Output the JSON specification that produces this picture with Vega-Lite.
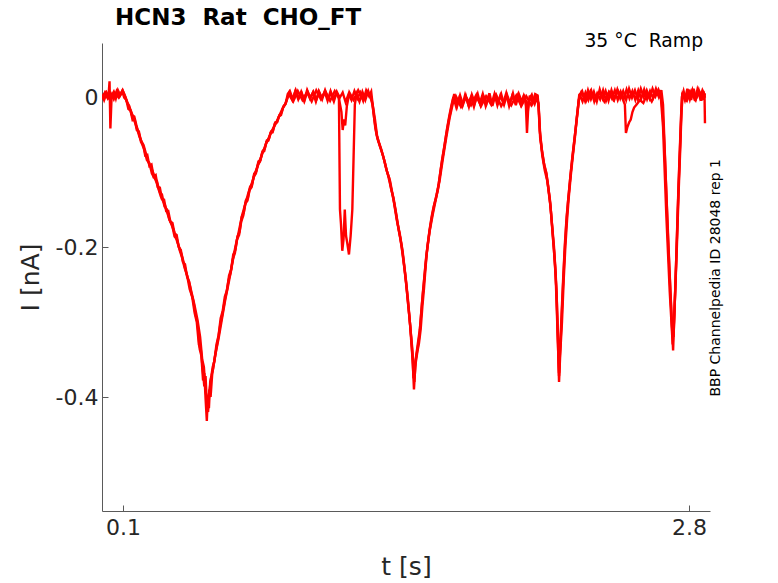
{
  "$schema": "https://vega.github.io/schema/vega-lite/v6.json",
  "autosize": {"type": "none"},
  "padding": {"left": 102, "top": 43, "right": 68, "bottom": 72},
  "width": 608,
  "height": 468,
  "background": "white",
  "title": {
    "text": "HCN3 \u00a0Rat \u00a0CHO_FT",
    "anchor": "start",
    "frame": "group",
    "dx": 13,
    "offset": -16.5,
    "baseline": "alphabetic",
    "font": "DejaVu Sans",
    "fontSize": 23,
    "fontWeight": "bold",
    "color": "black"
  },
  "layer": [
    {
      "data": {
        "values": [
          {"s":"A","t":0.000,"i":0.003},{"s":"A","t":0.010,"i":-0.004},{"s":"A","t":0.020,"i":0.004},{"s":"A","t":0.030,"i":-0.003},
          {"s":"A","t":0.036,"i":0.021},{"s":"A","t":0.040,"i":-0.042},{"s":"A","t":0.046,"i":0.002},{"s":"A","t":0.056,"i":0.007},
          {"s":"A","t":0.066,"i":-0.002},{"s":"A","t":0.076,"i":0.009},{"s":"A","t":0.086,"i":0.003},{"s":"A","t":0.096,"i":0.008},
          {"s":"A","t":0.106,"i":-0.001},{"s":"A","t":0.116,"i":-0.004},{"s":"A","t":0.126,"i":-0.016},{"s":"A","t":0.136,"i":-0.018},
          {"s":"A","t":0.146,"i":-0.031},{"s":"A","t":0.156,"i":-0.030},{"s":"A","t":0.166,"i":-0.044},{"s":"A","t":0.176,"i":-0.046},
          {"s":"A","t":0.186,"i":-0.060},{"s":"A","t":0.196,"i":-0.063},{"s":"A","t":0.206,"i":-0.078},{"s":"A","t":0.216,"i":-0.077},
          {"s":"A","t":0.226,"i":-0.092},{"s":"A","t":0.236,"i":-0.090},{"s":"A","t":0.246,"i":-0.106},{"s":"A","t":0.256,"i":-0.104},
          {"s":"A","t":0.266,"i":-0.120},{"s":"A","t":0.276,"i":-0.121},{"s":"A","t":0.286,"i":-0.136},{"s":"A","t":0.296,"i":-0.137},
          {"s":"A","t":0.306,"i":-0.152},{"s":"A","t":0.316,"i":-0.152},{"s":"A","t":0.326,"i":-0.166},{"s":"A","t":0.336,"i":-0.168},
          {"s":"A","t":0.346,"i":-0.182},{"s":"A","t":0.356,"i":-0.184},{"s":"A","t":0.366,"i":-0.200},{"s":"A","t":0.376,"i":-0.204},
          {"s":"A","t":0.386,"i":-0.220},{"s":"A","t":0.396,"i":-0.223},{"s":"A","t":0.406,"i":-0.240},{"s":"A","t":0.416,"i":-0.246},
          {"s":"A","t":0.426,"i":-0.262},{"s":"A","t":0.436,"i":-0.272},{"s":"A","t":0.446,"i":-0.290},{"s":"A","t":0.456,"i":-0.302},
          {"s":"A","t":0.466,"i":-0.336},{"s":"A","t":0.474,"i":-0.345},{"s":"A","t":0.482,"i":-0.378},{"s":"A","t":0.488,"i":-0.368},
          {"s":"A","t":0.494,"i":-0.402},{"s":"A","t":0.500,"i":-0.432},{"s":"A","t":0.505,"i":-0.398},{"s":"A","t":0.510,"i":-0.415},
          {"s":"A","t":0.516,"i":-0.380},{"s":"A","t":0.522,"i":-0.372},{"s":"A","t":0.528,"i":-0.360},{"s":"A","t":0.536,"i":-0.352},
          {"s":"A","t":0.546,"i":-0.330},{"s":"A","t":0.556,"i":-0.318},{"s":"A","t":0.566,"i":-0.295},{"s":"A","t":0.576,"i":-0.285},
          {"s":"A","t":0.586,"i":-0.266},{"s":"A","t":0.596,"i":-0.258},{"s":"A","t":0.606,"i":-0.238},{"s":"A","t":0.616,"i":-0.230},
          {"s":"A","t":0.626,"i":-0.210},{"s":"A","t":0.636,"i":-0.204},{"s":"A","t":0.646,"i":-0.186},{"s":"A","t":0.656,"i":-0.180},
          {"s":"A","t":0.666,"i":-0.160},{"s":"A","t":0.676,"i":-0.154},{"s":"A","t":0.686,"i":-0.138},{"s":"A","t":0.696,"i":-0.134},
          {"s":"A","t":0.706,"i":-0.120},{"s":"A","t":0.716,"i":-0.116},{"s":"A","t":0.726,"i":-0.102},{"s":"A","t":0.736,"i":-0.099},
          {"s":"A","t":0.746,"i":-0.086},{"s":"A","t":0.756,"i":-0.084},{"s":"A","t":0.766,"i":-0.072},{"s":"A","t":0.776,"i":-0.069},
          {"s":"A","t":0.786,"i":-0.058},{"s":"A","t":0.796,"i":-0.056},{"s":"A","t":0.806,"i":-0.046},{"s":"A","t":0.816,"i":-0.044},
          {"s":"A","t":0.826,"i":-0.034},{"s":"A","t":0.836,"i":-0.033},{"s":"A","t":0.846,"i":-0.024},{"s":"A","t":0.856,"i":-0.021},
          {"s":"A","t":0.866,"i":-0.012},{"s":"A","t":0.876,"i":-0.009},{"s":"A","t":0.886,"i":0.004},{"s":"A","t":0.896,"i":0.008},
          {"s":"A","t":0.910,"i":-0.003},{"s":"A","t":0.924,"i":0.009},{"s":"A","t":0.938,"i":-0.002},{"s":"A","t":0.952,"i":0.006},
          {"s":"A","t":0.966,"i":-0.005},{"s":"A","t":0.980,"i":0.008},{"s":"A","t":0.994,"i":-0.001},{"s":"A","t":1.008,"i":0.007},
          {"s":"A","t":1.022,"i":-0.004},{"s":"A","t":1.036,"i":0.006},{"s":"A","t":1.050,"i":-0.003},{"s":"A","t":1.064,"i":0.009},
          {"s":"A","t":1.078,"i":-0.002},{"s":"A","t":1.092,"i":0.005},{"s":"A","t":1.106,"i":-0.006},{"s":"A","t":1.120,"i":0.007},
          {"s":"A","t":1.134,"i":-0.001},{"s":"A","t":1.148,"i":0.006},{"s":"A","t":1.162,"i":-0.007},{"s":"A","t":1.176,"i":0.004},
          {"s":"A","t":1.190,"i":-0.004},{"s":"A","t":1.204,"i":0.008},{"s":"A","t":1.218,"i":-0.002},{"s":"A","t":1.232,"i":0.006},
          {"s":"A","t":1.246,"i":-0.005},{"s":"A","t":1.260,"i":0.009},{"s":"A","t":1.274,"i":0.001},{"s":"A","t":1.284,"i":0.007},
          {"s":"A","t":1.294,"i":-0.018},{"s":"A","t":1.304,"i":-0.042},{"s":"A","t":1.314,"i":-0.056},{"s":"A","t":1.324,"i":-0.064},
          {"s":"A","t":1.334,"i":-0.072},{"s":"A","t":1.344,"i":-0.082},{"s":"A","t":1.354,"i":-0.094},{"s":"A","t":1.364,"i":-0.104},
          {"s":"A","t":1.374,"i":-0.116},{"s":"A","t":1.384,"i":-0.128},{"s":"A","t":1.394,"i":-0.142},{"s":"A","t":1.404,"i":-0.158},
          {"s":"A","t":1.414,"i":-0.176},{"s":"A","t":1.424,"i":-0.190},{"s":"A","t":1.434,"i":-0.210},{"s":"A","t":1.444,"i":-0.232},
          {"s":"A","t":1.454,"i":-0.258},{"s":"A","t":1.462,"i":-0.282},{"s":"A","t":1.470,"i":-0.305},{"s":"A","t":1.476,"i":-0.330},
          {"s":"A","t":1.482,"i":-0.352},{"s":"A","t":1.488,"i":-0.390},{"s":"A","t":1.492,"i":-0.370},{"s":"A","t":1.496,"i":-0.355},
          {"s":"A","t":1.504,"i":-0.340},{"s":"A","t":1.512,"i":-0.328},{"s":"A","t":1.520,"i":-0.310},{"s":"A","t":1.528,"i":-0.280},
          {"s":"A","t":1.536,"i":-0.255},{"s":"A","t":1.544,"i":-0.225},{"s":"A","t":1.552,"i":-0.200},{"s":"A","t":1.562,"i":-0.178},
          {"s":"A","t":1.572,"i":-0.160},{"s":"A","t":1.582,"i":-0.146},{"s":"A","t":1.592,"i":-0.136},{"s":"A","t":1.602,"i":-0.124},
          {"s":"A","t":1.612,"i":-0.104},{"s":"A","t":1.622,"i":-0.084},{"s":"A","t":1.632,"i":-0.068},{"s":"A","t":1.642,"i":-0.050},
          {"s":"A","t":1.652,"i":-0.034},{"s":"A","t":1.662,"i":-0.020},{"s":"A","t":1.672,"i":-0.006},{"s":"A","t":1.680,"i":0.004},
          {"s":"A","t":1.694,"i":-0.012},{"s":"A","t":1.708,"i":0.002},{"s":"A","t":1.722,"i":-0.010},{"s":"A","t":1.736,"i":0.001},
          {"s":"A","t":1.750,"i":-0.013},{"s":"A","t":1.764,"i":0.003},{"s":"A","t":1.778,"i":-0.008},{"s":"A","t":1.792,"i":0.004},
          {"s":"A","t":1.806,"i":-0.011},{"s":"A","t":1.820,"i":0.001},{"s":"A","t":1.834,"i":-0.009},{"s":"A","t":1.848,"i":0.005},
          {"s":"A","t":1.862,"i":-0.012},{"s":"A","t":1.876,"i":0.002},{"s":"A","t":1.890,"i":-0.007},{"s":"A","t":1.904,"i":0.004},
          {"s":"A","t":1.918,"i":-0.010},{"s":"A","t":1.932,"i":0.003},{"s":"A","t":1.946,"i":-0.008},{"s":"A","t":1.960,"i":0.005},
          {"s":"A","t":1.974,"i":-0.011},{"s":"A","t":1.988,"i":0.004},{"s":"A","t":2.002,"i":-0.006},{"s":"A","t":2.014,"i":0.003},
          {"s":"A","t":2.022,"i":-0.012},{"s":"A","t":2.027,"i":-0.048},{"s":"A","t":2.032,"i":-0.020},{"s":"A","t":2.040,"i":0.002},
          {"s":"A","t":2.054,"i":-0.008},{"s":"A","t":2.066,"i":0.004},{"s":"A","t":2.078,"i":0.002},{"s":"A","t":2.084,"i":-0.020},
          {"s":"A","t":2.090,"i":-0.055},{"s":"A","t":2.100,"i":-0.075},{"s":"A","t":2.110,"i":-0.092},{"s":"A","t":2.120,"i":-0.102},
          {"s":"A","t":2.130,"i":-0.125},{"s":"A","t":2.140,"i":-0.148},{"s":"A","t":2.150,"i":-0.185},{"s":"A","t":2.160,"i":-0.220},
          {"s":"A","t":2.168,"i":-0.260},{"s":"A","t":2.174,"i":-0.320},{"s":"A","t":2.180,"i":-0.380},{"s":"A","t":2.186,"i":-0.340},
          {"s":"A","t":2.194,"i":-0.300},{"s":"A","t":2.202,"i":-0.245},{"s":"A","t":2.210,"i":-0.200},{"s":"A","t":2.218,"i":-0.165},
          {"s":"A","t":2.226,"i":-0.135},{"s":"A","t":2.236,"i":-0.105},{"s":"A","t":2.246,"i":-0.078},{"s":"A","t":2.256,"i":-0.053},
          {"s":"A","t":2.264,"i":-0.030},{"s":"A","t":2.272,"i":-0.010},{"s":"A","t":2.278,"i":0.004},{"s":"A","t":2.292,"i":-0.006},
          {"s":"A","t":2.306,"i":0.006},{"s":"A","t":2.320,"i":-0.004},{"s":"A","t":2.334,"i":0.008},{"s":"A","t":2.348,"i":-0.006},
          {"s":"A","t":2.362,"i":0.005},{"s":"A","t":2.376,"i":-0.003},{"s":"A","t":2.390,"i":0.009},{"s":"A","t":2.404,"i":-0.005},
          {"s":"A","t":2.418,"i":0.006},{"s":"A","t":2.432,"i":-0.002},{"s":"A","t":2.446,"i":0.009},{"s":"A","t":2.460,"i":-0.004},
          {"s":"A","t":2.474,"i":0.007},{"s":"A","t":2.488,"i":-0.003},{"s":"A","t":2.502,"i":0.010},{"s":"A","t":2.516,"i":-0.002},
          {"s":"A","t":2.530,"i":0.008},{"s":"A","t":2.544,"i":-0.004},{"s":"A","t":2.558,"i":0.009},{"s":"A","t":2.572,"i":-0.002},
          {"s":"A","t":2.586,"i":0.010},{"s":"A","t":2.600,"i":-0.003},{"s":"A","t":2.614,"i":0.008},{"s":"A","t":2.628,"i":-0.001},
          {"s":"A","t":2.642,"i":0.011},{"s":"A","t":2.656,"i":0.000},{"s":"A","t":2.668,"i":0.009},{"s":"A","t":2.676,"i":-0.010},
          {"s":"A","t":2.684,"i":-0.070},{"s":"A","t":2.692,"i":-0.130},{"s":"A","t":2.700,"i":-0.190},{"s":"A","t":2.708,"i":-0.240},
          {"s":"A","t":2.716,"i":-0.290},{"s":"A","t":2.724,"i":-0.338},{"s":"A","t":2.730,"i":-0.290},{"s":"A","t":2.736,"i":-0.240},
          {"s":"A","t":2.742,"i":-0.190},{"s":"A","t":2.750,"i":-0.120},{"s":"A","t":2.758,"i":-0.060},{"s":"A","t":2.766,"i":0.000},
          {"s":"A","t":2.774,"i":0.008},{"s":"A","t":2.786,"i":-0.006},{"s":"A","t":2.798,"i":0.010},{"s":"A","t":2.810,"i":-0.004},
          {"s":"A","t":2.822,"i":0.011},{"s":"A","t":2.834,"i":-0.002},{"s":"A","t":2.846,"i":0.009},{"s":"A","t":2.858,"i":-0.005},
          {"s":"A","t":2.868,"i":0.008},{"s":"A","t":2.876,"i":-0.001},

          {"s":"B","t":0.000,"i":-0.003},{"s":"B","t":0.014,"i":0.006},{"s":"B","t":0.028,"i":-0.002},{"s":"B","t":0.042,"i":0.005},
          {"s":"B","t":0.056,"i":-0.003},{"s":"B","t":0.070,"i":0.008},{"s":"B","t":0.084,"i":0.001},{"s":"B","t":0.098,"i":0.009},
          {"s":"B","t":0.108,"i":0.002},{"s":"B","t":0.118,"i":-0.006},{"s":"B","t":0.130,"i":-0.012},{"s":"B","t":0.142,"i":-0.024},
          {"s":"B","t":0.154,"i":-0.026},{"s":"B","t":0.166,"i":-0.040},{"s":"B","t":0.178,"i":-0.050},{"s":"B","t":0.190,"i":-0.062},
          {"s":"B","t":0.202,"i":-0.070},{"s":"B","t":0.214,"i":-0.084},{"s":"B","t":0.226,"i":-0.088},{"s":"B","t":0.238,"i":-0.102},
          {"s":"B","t":0.250,"i":-0.108},{"s":"B","t":0.262,"i":-0.112},{"s":"B","t":0.274,"i":-0.126},{"s":"B","t":0.286,"i":-0.130},
          {"s":"B","t":0.298,"i":-0.146},{"s":"B","t":0.310,"i":-0.150},{"s":"B","t":0.322,"i":-0.164},{"s":"B","t":0.334,"i":-0.170},
          {"s":"B","t":0.346,"i":-0.186},{"s":"B","t":0.358,"i":-0.190},{"s":"B","t":0.370,"i":-0.204},{"s":"B","t":0.382,"i":-0.214},
          {"s":"B","t":0.394,"i":-0.228},{"s":"B","t":0.406,"i":-0.238},{"s":"B","t":0.418,"i":-0.256},{"s":"B","t":0.430,"i":-0.266},
          {"s":"B","t":0.442,"i":-0.288},{"s":"B","t":0.452,"i":-0.300},{"s":"B","t":0.462,"i":-0.330},{"s":"B","t":0.472,"i":-0.338},
          {"s":"B","t":0.480,"i":-0.362},{"s":"B","t":0.488,"i":-0.386},{"s":"B","t":0.494,"i":-0.372},{"s":"B","t":0.500,"i":-0.410},
          {"s":"B","t":0.506,"i":-0.420},{"s":"B","t":0.512,"i":-0.390},{"s":"B","t":0.518,"i":-0.400},{"s":"B","t":0.526,"i":-0.368},
          {"s":"B","t":0.534,"i":-0.355},{"s":"B","t":0.544,"i":-0.338},{"s":"B","t":0.554,"i":-0.322},{"s":"B","t":0.564,"i":-0.304},
          {"s":"B","t":0.574,"i":-0.290},{"s":"B","t":0.584,"i":-0.274},{"s":"B","t":0.594,"i":-0.260},{"s":"B","t":0.604,"i":-0.244},
          {"s":"B","t":0.614,"i":-0.234},{"s":"B","t":0.624,"i":-0.216},{"s":"B","t":0.634,"i":-0.208},{"s":"B","t":0.644,"i":-0.190},
          {"s":"B","t":0.654,"i":-0.184},{"s":"B","t":0.664,"i":-0.166},{"s":"B","t":0.674,"i":-0.158},{"s":"B","t":0.684,"i":-0.142},
          {"s":"B","t":0.694,"i":-0.138},{"s":"B","t":0.704,"i":-0.124},{"s":"B","t":0.714,"i":-0.120},{"s":"B","t":0.724,"i":-0.106},
          {"s":"B","t":0.734,"i":-0.102},{"s":"B","t":0.744,"i":-0.090},{"s":"B","t":0.754,"i":-0.086},{"s":"B","t":0.764,"i":-0.074},
          {"s":"B","t":0.774,"i":-0.072},{"s":"B","t":0.784,"i":-0.060},{"s":"B","t":0.794,"i":-0.058},{"s":"B","t":0.804,"i":-0.048},
          {"s":"B","t":0.814,"i":-0.047},{"s":"B","t":0.824,"i":-0.036},{"s":"B","t":0.834,"i":-0.034},{"s":"B","t":0.844,"i":-0.026},
          {"s":"B","t":0.854,"i":-0.024},{"s":"B","t":0.864,"i":-0.014},{"s":"B","t":0.874,"i":-0.010},{"s":"B","t":0.884,"i":-0.002},
          {"s":"B","t":0.894,"i":0.006},{"s":"B","t":0.908,"i":-0.004},{"s":"B","t":0.922,"i":0.008},{"s":"B","t":0.936,"i":-0.003},
          {"s":"B","t":0.950,"i":0.007},{"s":"B","t":0.964,"i":-0.005},{"s":"B","t":0.978,"i":0.009},{"s":"B","t":0.992,"i":-0.002},
          {"s":"B","t":1.006,"i":0.006},{"s":"B","t":1.020,"i":-0.006},{"s":"B","t":1.034,"i":0.008},{"s":"B","t":1.048,"i":-0.001},
          {"s":"B","t":1.062,"i":0.007},{"s":"B","t":1.076,"i":-0.005},{"s":"B","t":1.090,"i":0.008},{"s":"B","t":1.104,"i":-0.003},
          {"s":"B","t":1.118,"i":0.006},{"s":"B","t":1.130,"i":0.001},{"s":"B","t":1.135,"i":-0.150},{"s":"B","t":1.140,"i":-0.170},
          {"s":"B","t":1.146,"i":-0.205},{"s":"B","t":1.152,"i":-0.190},{"s":"B","t":1.158,"i":-0.150},{"s":"B","t":1.164,"i":-0.185},
          {"s":"B","t":1.170,"i":-0.195},{"s":"B","t":1.178,"i":-0.210},{"s":"B","t":1.186,"i":-0.185},{"s":"B","t":1.194,"i":-0.150},
          {"s":"B","t":1.200,"i":-0.080},{"s":"B","t":1.206,"i":-0.010},{"s":"B","t":1.214,"i":0.004},{"s":"B","t":1.228,"i":-0.006},
          {"s":"B","t":1.242,"i":0.007},{"s":"B","t":1.256,"i":-0.004},{"s":"B","t":1.270,"i":0.008},{"s":"B","t":1.282,"i":-0.002},
          {"s":"B","t":1.290,"i":-0.010},{"s":"B","t":1.300,"i":-0.032},{"s":"B","t":1.310,"i":-0.050},{"s":"B","t":1.320,"i":-0.060},
          {"s":"B","t":1.330,"i":-0.068},{"s":"B","t":1.340,"i":-0.078},{"s":"B","t":1.350,"i":-0.088},{"s":"B","t":1.360,"i":-0.100},
          {"s":"B","t":1.370,"i":-0.108},{"s":"B","t":1.380,"i":-0.124},{"s":"B","t":1.390,"i":-0.134},{"s":"B","t":1.400,"i":-0.150},
          {"s":"B","t":1.410,"i":-0.168},{"s":"B","t":1.420,"i":-0.184},{"s":"B","t":1.430,"i":-0.200},{"s":"B","t":1.440,"i":-0.222},
          {"s":"B","t":1.450,"i":-0.246},{"s":"B","t":1.458,"i":-0.270},{"s":"B","t":1.466,"i":-0.292},{"s":"B","t":1.474,"i":-0.318},
          {"s":"B","t":1.480,"i":-0.342},{"s":"B","t":1.486,"i":-0.375},{"s":"B","t":1.492,"i":-0.360},{"s":"B","t":1.498,"i":-0.348},
          {"s":"B","t":1.506,"i":-0.334},{"s":"B","t":1.514,"i":-0.318},{"s":"B","t":1.522,"i":-0.290},{"s":"B","t":1.530,"i":-0.262},
          {"s":"B","t":1.538,"i":-0.238},{"s":"B","t":1.546,"i":-0.214},{"s":"B","t":1.556,"i":-0.192},{"s":"B","t":1.566,"i":-0.172},
          {"s":"B","t":1.576,"i":-0.156},{"s":"B","t":1.586,"i":-0.142},{"s":"B","t":1.596,"i":-0.130},{"s":"B","t":1.606,"i":-0.116},
          {"s":"B","t":1.616,"i":-0.096},{"s":"B","t":1.626,"i":-0.078},{"s":"B","t":1.636,"i":-0.060},{"s":"B","t":1.646,"i":-0.042},
          {"s":"B","t":1.656,"i":-0.026},{"s":"B","t":1.666,"i":-0.012},{"s":"B","t":1.676,"i":0.000},{"s":"B","t":1.690,"i":-0.014},
          {"s":"B","t":1.704,"i":-0.001},{"s":"B","t":1.718,"i":-0.012},{"s":"B","t":1.732,"i":0.003},{"s":"B","t":1.746,"i":-0.009},
          {"s":"B","t":1.760,"i":0.000},{"s":"B","t":1.774,"i":-0.013},{"s":"B","t":1.788,"i":0.002},{"s":"B","t":1.802,"i":-0.008},
          {"s":"B","t":1.816,"i":0.004},{"s":"B","t":1.830,"i":-0.012},{"s":"B","t":1.844,"i":0.001},{"s":"B","t":1.858,"i":-0.009},
          {"s":"B","t":1.872,"i":0.004},{"s":"B","t":1.886,"i":-0.011},{"s":"B","t":1.900,"i":0.002},{"s":"B","t":1.914,"i":-0.008},
          {"s":"B","t":1.928,"i":0.005},{"s":"B","t":1.942,"i":-0.012},{"s":"B","t":1.956,"i":0.001},{"s":"B","t":1.970,"i":-0.007},
          {"s":"B","t":1.984,"i":0.003},{"s":"B","t":1.998,"i":-0.010},{"s":"B","t":2.012,"i":0.002},{"s":"B","t":2.026,"i":-0.008},
          {"s":"B","t":2.030,"i":-0.018},{"s":"B","t":2.036,"i":-0.004},{"s":"B","t":2.050,"i":0.003},{"s":"B","t":2.064,"i":-0.009},
          {"s":"B","t":2.076,"i":0.001},{"s":"B","t":2.082,"i":-0.012},{"s":"B","t":2.088,"i":-0.045},{"s":"B","t":2.098,"i":-0.070},
          {"s":"B","t":2.108,"i":-0.088},{"s":"B","t":2.118,"i":-0.100},{"s":"B","t":2.128,"i":-0.118},{"s":"B","t":2.138,"i":-0.142},
          {"s":"B","t":2.148,"i":-0.176},{"s":"B","t":2.156,"i":-0.205},{"s":"B","t":2.164,"i":-0.240},{"s":"B","t":2.170,"i":-0.290},
          {"s":"B","t":2.176,"i":-0.340},{"s":"B","t":2.180,"i":-0.372},{"s":"B","t":2.184,"i":-0.345},{"s":"B","t":2.190,"i":-0.310},
          {"s":"B","t":2.198,"i":-0.258},{"s":"B","t":2.206,"i":-0.210},{"s":"B","t":2.214,"i":-0.172},{"s":"B","t":2.222,"i":-0.142},
          {"s":"B","t":2.232,"i":-0.112},{"s":"B","t":2.242,"i":-0.084},{"s":"B","t":2.252,"i":-0.060},{"s":"B","t":2.262,"i":-0.036},
          {"s":"B","t":2.270,"i":-0.016},{"s":"B","t":2.276,"i":0.002},{"s":"B","t":2.290,"i":0.008},{"s":"B","t":2.304,"i":-0.005},
          {"s":"B","t":2.318,"i":0.009},{"s":"B","t":2.332,"i":-0.003},{"s":"B","t":2.346,"i":0.007},{"s":"B","t":2.360,"i":-0.006},
          {"s":"B","t":2.374,"i":0.010},{"s":"B","t":2.388,"i":-0.002},{"s":"B","t":2.402,"i":0.008},{"s":"B","t":2.416,"i":-0.005},
          {"s":"B","t":2.430,"i":0.009},{"s":"B","t":2.444,"i":-0.003},{"s":"B","t":2.458,"i":0.010},{"s":"B","t":2.472,"i":-0.002},
          {"s":"B","t":2.486,"i":0.008},{"s":"B","t":2.500,"i":-0.004},{"s":"B","t":2.514,"i":0.011},{"s":"B","t":2.528,"i":-0.001},
          {"s":"B","t":2.542,"i":0.009},{"s":"B","t":2.556,"i":-0.003},{"s":"B","t":2.570,"i":0.011},{"s":"B","t":2.584,"i":0.000},
          {"s":"B","t":2.598,"i":0.009},{"s":"B","t":2.612,"i":-0.002},{"s":"B","t":2.626,"i":0.011},{"s":"B","t":2.640,"i":0.001},
          {"s":"B","t":2.654,"i":0.010},{"s":"B","t":2.666,"i":0.002},{"s":"B","t":2.674,"i":-0.020},{"s":"B","t":2.682,"i":-0.060},
          {"s":"B","t":2.690,"i":-0.115},{"s":"B","t":2.698,"i":-0.170},{"s":"B","t":2.706,"i":-0.225},{"s":"B","t":2.714,"i":-0.275},
          {"s":"B","t":2.720,"i":-0.310},{"s":"B","t":2.726,"i":-0.320},{"s":"B","t":2.732,"i":-0.275},{"s":"B","t":2.738,"i":-0.225},
          {"s":"B","t":2.746,"i":-0.150},{"s":"B","t":2.754,"i":-0.085},{"s":"B","t":2.762,"i":-0.025},{"s":"B","t":2.768,"i":0.006},
          {"s":"B","t":2.780,"i":-0.004},{"s":"B","t":2.792,"i":0.011},{"s":"B","t":2.804,"i":-0.003},{"s":"B","t":2.816,"i":0.009},
          {"s":"B","t":2.828,"i":-0.005},{"s":"B","t":2.840,"i":0.010},{"s":"B","t":2.852,"i":-0.001},{"s":"B","t":2.864,"i":0.009},
          {"s":"B","t":2.876,"i":0.002},

          {"s":"C","t":0.000,"i":0.001},{"s":"C","t":0.020,"i":0.007},{"s":"C","t":0.040,"i":-0.003},{"s":"C","t":0.060,"i":0.006},
          {"s":"C","t":0.080,"i":-0.001},{"s":"C","t":0.100,"i":0.008},{"s":"C","t":0.112,"i":0.000},{"s":"C","t":0.124,"i":-0.010},
          {"s":"C","t":0.140,"i":-0.020},{"s":"C","t":0.160,"i":-0.036},{"s":"C","t":0.180,"i":-0.054},{"s":"C","t":0.200,"i":-0.066},
          {"s":"C","t":0.220,"i":-0.086},{"s":"C","t":0.240,"i":-0.098},{"s":"C","t":0.260,"i":-0.114},{"s":"C","t":0.280,"i":-0.132},
          {"s":"C","t":0.300,"i":-0.144},{"s":"C","t":0.320,"i":-0.162},{"s":"C","t":0.340,"i":-0.176},{"s":"C","t":0.360,"i":-0.194},
          {"s":"C","t":0.380,"i":-0.210},{"s":"C","t":0.400,"i":-0.232},{"s":"C","t":0.420,"i":-0.252},{"s":"C","t":0.440,"i":-0.276},
          {"s":"C","t":0.456,"i":-0.298},{"s":"C","t":0.468,"i":-0.320},{"s":"C","t":0.478,"i":-0.350},{"s":"C","t":0.486,"i":-0.360},
          {"s":"C","t":0.494,"i":-0.392},{"s":"C","t":0.502,"i":-0.405},{"s":"C","t":0.510,"i":-0.398},{"s":"C","t":0.520,"i":-0.375},
          {"s":"C","t":0.530,"i":-0.362},{"s":"C","t":0.540,"i":-0.344},{"s":"C","t":0.556,"i":-0.322},{"s":"C","t":0.572,"i":-0.296},
          {"s":"C","t":0.588,"i":-0.270},{"s":"C","t":0.604,"i":-0.248},{"s":"C","t":0.620,"i":-0.224},{"s":"C","t":0.636,"i":-0.200},
          {"s":"C","t":0.652,"i":-0.180},{"s":"C","t":0.668,"i":-0.158},{"s":"C","t":0.684,"i":-0.142},{"s":"C","t":0.700,"i":-0.126},
          {"s":"C","t":0.716,"i":-0.114},{"s":"C","t":0.732,"i":-0.100},{"s":"C","t":0.748,"i":-0.088},{"s":"C","t":0.764,"i":-0.076},
          {"s":"C","t":0.780,"i":-0.064},{"s":"C","t":0.796,"i":-0.054},{"s":"C","t":0.812,"i":-0.044},{"s":"C","t":0.828,"i":-0.036},
          {"s":"C","t":0.844,"i":-0.026},{"s":"C","t":0.860,"i":-0.016},{"s":"C","t":0.876,"i":-0.008},{"s":"C","t":0.890,"i":0.004},
          {"s":"C","t":0.912,"i":-0.006},{"s":"C","t":0.934,"i":0.008},{"s":"C","t":0.956,"i":-0.004},{"s":"C","t":0.978,"i":0.006},
          {"s":"C","t":1.000,"i":-0.006},{"s":"C","t":1.022,"i":0.009},{"s":"C","t":1.044,"i":-0.003},{"s":"C","t":1.066,"i":0.007},
          {"s":"C","t":1.088,"i":-0.005},{"s":"C","t":1.110,"i":0.008},{"s":"C","t":1.130,"i":-0.002},{"s":"C","t":1.142,"i":-0.020},
          {"s":"C","t":1.148,"i":-0.044},{"s":"C","t":1.154,"i":-0.030},{"s":"C","t":1.160,"i":-0.038},{"s":"C","t":1.168,"i":-0.012},
          {"s":"C","t":1.180,"i":0.006},{"s":"C","t":1.200,"i":-0.004},{"s":"C","t":1.222,"i":0.009},{"s":"C","t":1.244,"i":-0.003},
          {"s":"C","t":1.266,"i":0.007},{"s":"C","t":1.284,"i":0.000},{"s":"C","t":1.292,"i":-0.012},{"s":"C","t":1.302,"i":-0.030},
          {"s":"C","t":1.312,"i":-0.052},{"s":"C","t":1.326,"i":-0.066},{"s":"C","t":1.342,"i":-0.080},{"s":"C","t":1.358,"i":-0.098},
          {"s":"C","t":1.374,"i":-0.112},{"s":"C","t":1.390,"i":-0.136},{"s":"C","t":1.406,"i":-0.164},{"s":"C","t":1.420,"i":-0.182},
          {"s":"C","t":1.434,"i":-0.206},{"s":"C","t":1.448,"i":-0.240},{"s":"C","t":1.460,"i":-0.272},{"s":"C","t":1.472,"i":-0.312},
          {"s":"C","t":1.480,"i":-0.335},{"s":"C","t":1.486,"i":-0.365},{"s":"C","t":1.490,"i":-0.380},{"s":"C","t":1.496,"i":-0.350},
          {"s":"C","t":1.506,"i":-0.330},{"s":"C","t":1.516,"i":-0.310},{"s":"C","t":1.526,"i":-0.276},{"s":"C","t":1.536,"i":-0.246},
          {"s":"C","t":1.548,"i":-0.210},{"s":"C","t":1.562,"i":-0.180},{"s":"C","t":1.578,"i":-0.156},{"s":"C","t":1.594,"i":-0.134},
          {"s":"C","t":1.610,"i":-0.112},{"s":"C","t":1.626,"i":-0.082},{"s":"C","t":1.642,"i":-0.054},{"s":"C","t":1.658,"i":-0.028},
          {"s":"C","t":1.674,"i":-0.008},{"s":"C","t":1.688,"i":0.001},{"s":"C","t":1.712,"i":-0.013},{"s":"C","t":1.736,"i":0.000},
          {"s":"C","t":1.760,"i":-0.011},{"s":"C","t":1.784,"i":0.002},{"s":"C","t":1.808,"i":-0.012},{"s":"C","t":1.832,"i":0.001},
          {"s":"C","t":1.856,"i":-0.010},{"s":"C","t":1.880,"i":0.003},{"s":"C","t":1.904,"i":-0.012},{"s":"C","t":1.928,"i":0.000},
          {"s":"C","t":1.952,"i":-0.011},{"s":"C","t":1.976,"i":0.002},{"s":"C","t":2.000,"i":-0.012},{"s":"C","t":2.024,"i":0.001},
          {"s":"C","t":2.048,"i":-0.011},{"s":"C","t":2.070,"i":0.000},{"s":"C","t":2.082,"i":-0.008},{"s":"C","t":2.090,"i":-0.050},
          {"s":"C","t":2.100,"i":-0.078},{"s":"C","t":2.112,"i":-0.098},{"s":"C","t":2.124,"i":-0.112},{"s":"C","t":2.136,"i":-0.136},
          {"s":"C","t":2.146,"i":-0.168},{"s":"C","t":2.156,"i":-0.200},{"s":"C","t":2.164,"i":-0.236},{"s":"C","t":2.170,"i":-0.275},
          {"s":"C","t":2.176,"i":-0.330},{"s":"C","t":2.180,"i":-0.368},{"s":"C","t":2.186,"i":-0.330},{"s":"C","t":2.192,"i":-0.290},
          {"s":"C","t":2.200,"i":-0.240},{"s":"C","t":2.208,"i":-0.195},{"s":"C","t":2.216,"i":-0.160},{"s":"C","t":2.226,"i":-0.130},
          {"s":"C","t":2.236,"i":-0.100},{"s":"C","t":2.246,"i":-0.075},{"s":"C","t":2.256,"i":-0.050},{"s":"C","t":2.266,"i":-0.024},
          {"s":"C","t":2.274,"i":-0.004},{"s":"C","t":2.286,"i":0.006},{"s":"C","t":2.308,"i":-0.006},{"s":"C","t":2.330,"i":0.008},
          {"s":"C","t":2.352,"i":-0.004},{"s":"C","t":2.374,"i":0.006},{"s":"C","t":2.396,"i":-0.006},{"s":"C","t":2.418,"i":0.007},
          {"s":"C","t":2.440,"i":-0.004},{"s":"C","t":2.462,"i":0.008},{"s":"C","t":2.484,"i":-0.003},{"s":"C","t":2.494,"i":-0.010},
          {"s":"C","t":2.499,"i":-0.048},{"s":"C","t":2.506,"i":-0.040},{"s":"C","t":2.514,"i":-0.034},{"s":"C","t":2.522,"i":-0.030},
          {"s":"C","t":2.530,"i":-0.020},{"s":"C","t":2.538,"i":-0.014},{"s":"C","t":2.550,"i":-0.010},{"s":"C","t":2.566,"i":-0.004},
          {"s":"C","t":2.582,"i":-0.008},{"s":"C","t":2.600,"i":0.004},{"s":"C","t":2.622,"i":-0.006},{"s":"C","t":2.644,"i":0.007},
          {"s":"C","t":2.666,"i":-0.002},{"s":"C","t":2.676,"i":-0.040},{"s":"C","t":2.684,"i":-0.100},{"s":"C","t":2.692,"i":-0.160},
          {"s":"C","t":2.700,"i":-0.210},{"s":"C","t":2.708,"i":-0.260},{"s":"C","t":2.716,"i":-0.300},{"s":"C","t":2.722,"i":-0.330},
          {"s":"C","t":2.728,"i":-0.300},{"s":"C","t":2.734,"i":-0.260},{"s":"C","t":2.742,"i":-0.200},{"s":"C","t":2.750,"i":-0.130},
          {"s":"C","t":2.758,"i":-0.070},{"s":"C","t":2.764,"i":-0.020},{"s":"C","t":2.770,"i":0.004},{"s":"C","t":2.790,"i":-0.005},
          {"s":"C","t":2.810,"i":0.008},{"s":"C","t":2.830,"i":-0.004},{"s":"C","t":2.850,"i":0.007},{"s":"C","t":2.866,"i":-0.002},
          {"s":"C","t":2.874,"i":0.001},{"s":"C","t":2.876,"i":-0.035}
        ]
      },
      "mark": {"type": "line", "color": "#ff0000", "strokeWidth": 2.4, "clip": true},
      "encoding": {
        "x": {
          "field": "t",
          "type": "quantitative",
          "scale": {"domain": [0, 2.9], "nice": false, "zero": false},
          "axis": {
            "title": "t [s]",
            "values": [0.1, 2.8],
            "format": ".1f",
            "grid": false,
            "tickSize": -6,
            "labelPadding": 12,
            "labelFontSize": 22,
            "titleFontSize": 25,
            "titlePadding": 16
          }
        },
        "y": {
          "field": "i",
          "type": "quantitative",
          "scale": {"domain": [-0.552, 0.072], "nice": false, "zero": false},
          "axis": {
            "title": "I [nA]",
            "values": [0, -0.2, -0.4],
            "labelExpr": "datum.value == 0 ? '0' : '-' + format(-datum.value, '.1f')",
            "grid": false,
            "tickSize": -6,
            "labelPadding": 10,
            "labelFontSize": 22,
            "titleFontSize": 25,
            "titlePadding": 12
          }
        },
        "detail": {"field": "s", "type": "nominal"}
      }
    },
    {
      "data": {"values": [{"label": "35 °C \u00a0Ramp", "t": 2.867, "i": 0.0667}]},
      "mark": {"type": "text", "align": "right", "baseline": "alphabetic", "font": "DejaVu Sans", "fontSize": 18.8, "color": "black"},
      "encoding": {
        "x": {"field": "t", "type": "quantitative"},
        "y": {"field": "i", "type": "quantitative"},
        "text": {"field": "label"}
      }
    },
    {
      "data": {"values": [{"label": "BBP Channelpedia ID 28048 rep 1", "t": 2.93, "i": -0.241}]},
      "mark": {"type": "text", "align": "center", "baseline": "middle", "angle": 270, "font": "DejaVu Sans", "fontSize": 14, "color": "black"},
      "encoding": {
        "x": {"field": "t", "type": "quantitative"},
        "y": {"field": "i", "type": "quantitative"},
        "text": {"field": "label"}
      }
    }
  ],
  "config": {
    "view": {"stroke": null},
    "font": "DejaVu Sans",
    "axis": {
      "domainColor": "#5a5a5a",
      "tickColor": "#5a5a5a",
      "domainWidth": 1,
      "labelColor": "#262626",
      "titleColor": "#262626",
      "labelFont": "DejaVu Sans",
      "titleFont": "DejaVu Sans",
      "titleFontWeight": "normal"
    }
  }
}
